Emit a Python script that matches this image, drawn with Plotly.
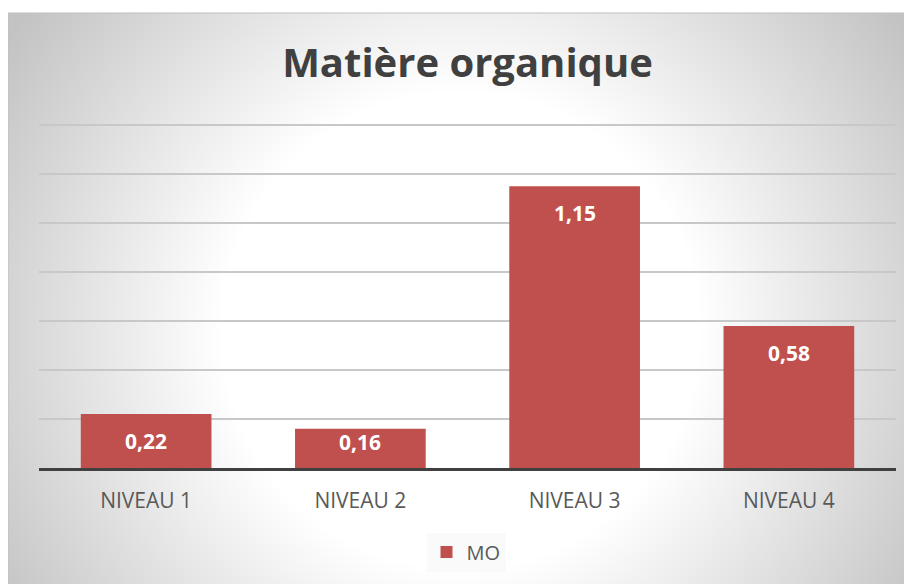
import base64
import struct
import zlib

import numpy as np
import plotly.graph_objects as go

# ---- data ----
categories = ["NIVEAU 1", "NIVEAU 2", "NIVEAU 3", "NIVEAU 4"]
mo_values = [0.22, 0.16, 1.15, 0.58]
series_name = "MO"
title_text = "Matière organique"

# the page body adds an 8px offset; the figure is sized to fit the window
OFF = 8
W, H = 912 - OFF, 584 - OFF
UNIT = 245.0            # pixels per data unit on the y axis
Y_TOP = 1.42
B = 584 - 468
L, R = 39 - OFF, 16
T = int(round(H - B - Y_TOP * UNIT))
pw, ph = W - L - R, H - T - B
y_max = ph / UNIT


def px_to_paper_x(px):
    return (px - OFF - L) / pw


def px_to_paper_y(py):
    return (H - B - (py - OFF)) / ph


# ---- radial gradient background as PNG ----
box_x0, box_y0 = 8, 13
bw, bh = 912 - box_x0, 584 - box_y0
yy, xx = np.mgrid[0:bh, 0:bw]
cx, cy = 460 - box_x0, 330 - box_y0
d = np.sqrt((xx - cx) ** 2 + (yy - cy) ** 2)
v = 255 - 0.2 * np.clip(d - 240, 0, None)
v = np.clip(v, 195, 255).astype(np.uint8)


def make_png(gray):
    h, w = gray.shape
    raw = b"".join(b"\x00" + gray[i].tobytes() for i in range(h))

    def chunk(tag, data):
        c = struct.pack(">I", len(data)) + tag + data
        return c + struct.pack(">I", zlib.crc32(tag + data) & 0xFFFFFFFF)

    ihdr = struct.pack(">IIBBBBB", w, h, 8, 0, 0, 0, 0)
    return (b"\x89PNG\r\n\x1a\n" + chunk(b"IHDR", ihdr)
            + chunk(b"IDAT", zlib.compress(raw, 9)) + chunk(b"IEND", b""))


png_uri = "data:image/png;base64," + base64.b64encode(make_png(v)).decode()

bar_color = "#C0504D"
text_dark = "#404040"
text_mid = "#595959"

fig = go.Figure()
fig.add_trace(go.Bar(
    x=categories, y=mo_values, name=series_name,
    marker=dict(color=bar_color, line=dict(width=0)),
    showlegend=True,
))

# data labels (inside end, kept within the bar)
for c, val in zip(categories, mo_values):
    y_lab = max(val - 27 / UNIT, 26 / UNIT)
    fig.add_annotation(
        x=c, y=y_lab, xref="x", yref="y",
        text=f"{val:.2f}".replace(".", ","),
        showarrow=False, yanchor="middle",
        font=dict(family="Open Sans", size=21, color="white", weight="bold"),
    )

bx0 = px_to_paper_x(box_x0)
by1 = px_to_paper_y(box_y0)
bx1 = px_to_paper_x(912 + 5)
by0 = px_to_paper_y(584 + 5)

fig.update_layout(
    width=W, height=H,
    margin=dict(l=L, r=R, t=T, b=B),
    paper_bgcolor="white",
    plot_bgcolor="rgba(0,0,0,0)",
    images=[dict(
        source=png_uri, xref="paper", yref="paper",
        x=bx0, y=by1, sizex=px_to_paper_x(912) - bx0, sizey=by1 - px_to_paper_y(584),
        xanchor="left", yanchor="top", sizing="stretch", layer="below",
    )],
    shapes=[dict(
        type="rect", xref="paper", yref="paper",
        x0=bx0, x1=bx1, y0=by0, y1=by1,
        line=dict(color="#BFBFBF", width=1), fillcolor="rgba(0,0,0,0)",
        layer="below",
    )],
    title=dict(
        text=title_text, x=0.5, xref="paper", xanchor="center",
        y=1 - (63 - OFF) / H, yref="container", yanchor="middle",
        font=dict(family="Open Sans", size=40, color=text_dark, weight="bold"),
    ),
    bargap=0.39,
    xaxis=dict(
        showgrid=False, showline=True, linecolor=text_dark, linewidth=3,
        ticks="outside", ticklen=12, tickcolor="rgba(0,0,0,0)",
        tickfont=dict(family="Open Sans", size=21, color=text_mid),
        zeroline=False,
    ),
    yaxis=dict(
        range=[0, y_max], tick0=0, dtick=0.2, showticklabels=False,
        showgrid=True, gridcolor="#C8C8C8", gridwidth=1.5,
        zeroline=False, showline=False,
    ),
    legend=dict(
        orientation="h", x=px_to_paper_x(466), xanchor="center",
        y=px_to_paper_y(552), yanchor="middle",
        font=dict(family="Open Sans", size=20, color=text_mid),
        bgcolor="rgba(0,0,0,0.02)",
    ),
    showlegend=True,
)

fig.write_html("out.html")
